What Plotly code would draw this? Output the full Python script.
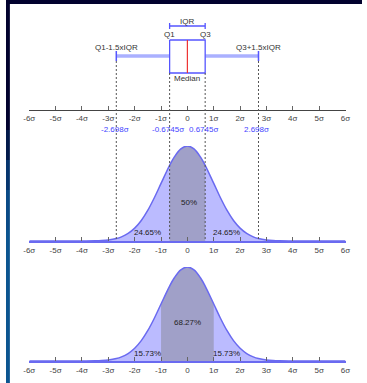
import plotly.graph_objects as go

# ---------------- data ----------------
TICK_VALUES = [-6, -5, -4, -3, -2, -1, 0, 1, 2, 3, 4, 5, 6]
TICK_LABELS = ["-6σ", "-5σ", "-4σ", "-3σ", "-2σ", "-1σ", "0", "1σ", "2σ", "3σ", "4σ", "5σ", "6σ"]

LOWER_FENCE = -2.698
Q1 = -0.6745
MEDIAN = 0.0
Q3 = 0.6745
UPPER_FENCE = 2.698
FENCE_LABELS = ["-2.698σ", "-0.6745σ", "0.6745σ", "2.698σ"]

# standard normal density
CURVE_X = [-6, -5, -4, -3.5, -3.25, -3, -2.698, -2.5, -2.25, -2, -1.75, -1.5, -1.25, -1,
           -0.6745, -0.5, -0.25, 0, 0.25, 0.5, 0.6745, 1, 1.25, 1.5, 1.75, 2, 2.25, 2.5,
           2.698, 3, 3.25, 3.5, 4, 5, 6]
CURVE_Y = [0.0, 0.0, 0.0001, 0.0009, 0.0020, 0.0044, 0.0104, 0.0175, 0.0317, 0.0540, 0.0863,
           0.1295, 0.1826, 0.2420, 0.3178, 0.3521, 0.3867, 0.3989, 0.3867, 0.3521, 0.3178,
           0.2420, 0.1826, 0.1295, 0.0863, 0.0540, 0.0317, 0.0175, 0.0104, 0.0044, 0.0020,
           0.0009, 0.0001, 0.0, 0.0]

IQR_SHARES = ["24.65%", "50%", "24.65%"]
IQR_SHARE_X = [-1.5, 0.05, 1.5]
SIGMA_LOW, SIGMA_HIGH = -1, 1
SIGMA_SHARES = ["15.73%", "68.27%", "15.73%"]
SIGMA_SHARE_X = [-1.5, 0, 1.5]

# ---------------- styling ----------------
W, H = 367, 383
FONT = "Liberation Sans, Arial, sans-serif"
LIGHT = "#bbbbff"
DARK = "#a0a0c8"
CURVE = "#6a6af0"
BLUE = "#5555ff"
TXT = "#333333"


def py(px):
    """pixel row -> paper y"""
    return 1 - px / H


fig = go.Figure()

# ----- section 1 : box plot (y axis in pixel-like units) -----
BOX_TOP, BOX_BOT, WHISK_Y = 40, 73, 56
fig.add_trace(go.Scatter(x=[LOWER_FENCE, Q1], y=[WHISK_Y, WHISK_Y], mode="lines",
                         line=dict(color="#aab0ff", width=3.5), xaxis="x", yaxis="y"))
fig.add_trace(go.Scatter(x=[Q3, UPPER_FENCE], y=[WHISK_Y, WHISK_Y], mode="lines",
                         line=dict(color="#aab0ff", width=3.5), xaxis="x", yaxis="y"))
for fx in (LOWER_FENCE, UPPER_FENCE):
    fig.add_trace(go.Scatter(x=[fx, fx], y=[51, 61], mode="lines",
                             line=dict(color=BLUE, width=1.5), xaxis="x", yaxis="y"))
fig.add_trace(go.Scatter(x=[Q1, Q3, Q3, Q1, Q1], y=[BOX_TOP, BOX_TOP, BOX_BOT, BOX_BOT, BOX_TOP],
                         mode="lines", fill="toself", fillcolor="white",
                         line=dict(color=BLUE, width=1.3), xaxis="x", yaxis="y"))
fig.add_trace(go.Scatter(x=[MEDIAN, MEDIAN], y=[BOX_TOP, BOX_BOT], mode="lines",
                         line=dict(color="#ee3333", width=1.2), xaxis="x", yaxis="y"))
# IQR bracket
fig.add_trace(go.Scatter(x=[Q1, Q3], y=[26, 26], mode="lines",
                         line=dict(color=BLUE, width=1.3), xaxis="x", yaxis="y"))
for qx in (Q1, Q3):
    fig.add_trace(go.Scatter(x=[qx, qx], y=[23, 29], mode="lines",
                             line=dict(color=BLUE, width=1.3), xaxis="x", yaxis="y"))


# ----- sections 2 & 3 : density curves -----
def density(xa, ya, lo, hi):
    idx = [i for i, v in enumerate(CURVE_X) if lo <= v <= hi]
    fig.add_trace(go.Scatter(x=CURVE_X, y=CURVE_Y, mode="lines", fill="tozeroy",
                             fillcolor=LIGHT, line=dict(color=CURVE, width=0, shape="spline"),
                             xaxis=xa, yaxis=ya))
    fig.add_trace(go.Scatter(x=[CURVE_X[i] for i in idx], y=[CURVE_Y[i] for i in idx],
                             mode="lines", fill="tozeroy", fillcolor=DARK,
                             line=dict(width=0, shape="spline"), xaxis=xa, yaxis=ya))
    fig.add_trace(go.Scatter(x=CURVE_X, y=CURVE_Y, mode="lines",
                             line=dict(color=CURVE, width=1.5, shape="spline"),
                             xaxis=xa, yaxis=ya))


density("x2", "y2", Q1, Q3)
density("x3", "y3", SIGMA_LOW, SIGMA_HIGH)

# ----- axes -----
XDOM = [24 / W, 350 / W]
AX1, AX2, AX3 = 110, 241, 361
common_x = dict(range=[-6, 6], domain=XDOM, tickmode="array", tickvals=TICK_VALUES,
                ticktext=TICK_LABELS, ticks="inside", ticklen=4, tickwidth=1,
                tickcolor="#666666", showgrid=False, zeroline=False, showline=True,
                tickfont=dict(family=FONT, size=8, color="#444444"), fixedrange=True)

layout = dict(
    width=W, height=H, autosize=False,
    margin=dict(l=0, r=0, t=0, b=0, pad=0),
    paper_bgcolor="white", plot_bgcolor="rgba(0,0,0,0)",
    showlegend=False,
    xaxis=dict(common_x, anchor="y", linecolor="#444444", linewidth=1),
    xaxis2=dict(common_x, anchor="y2", linecolor=CURVE, linewidth=2),
    xaxis3=dict(common_x, anchor="y3", linecolor=CURVE, linewidth=2),
    yaxis=dict(domain=[py(AX1), py(12)], range=[AX1, 12], visible=False, fixedrange=True),
    yaxis2=dict(domain=[py(AX2), py(146)], range=[0, 0.3989], visible=False, fixedrange=True),
    yaxis3=dict(domain=[py(AX3), py(267)], range=[0, 0.3989], visible=False, fixedrange=True),
)
fig.update_layout(**layout)

# ----- dashed guide lines -----
shapes = []
for fx, top in ((LOWER_FENCE, 61), (UPPER_FENCE, 61), (Q1, BOX_BOT), (Q3, BOX_BOT)):
    shapes.append(dict(type="line", xref="x", yref="paper", x0=fx, x1=fx,
                       y0=py(top), y1=py(AX2), layer="above",
                       line=dict(color="#555555", width=1, dash="2px,2px")))

# frame (dark border top / left)
shapes.append(dict(type="rect", xref="paper", yref="paper", x0=0, x1=1, y0=py(4), y1=1,
                   fillcolor="#02022e", line=dict(width=0), layer="above"))
strip = [(0, 130, "#02022e"), (130, 160, "#031a4a"), (160, 190, "#06356e"),
         (190, 230, "#0a4a86"), (230, 383, "#0c5590")]
for a, b, c in strip:
    shapes.append(dict(type="rect", xref="paper", yref="paper", x0=0, x1=4 / W,
                       y0=py(b), y1=py(a), fillcolor=c, line=dict(width=0), layer="above"))
fig.update_layout(shapes=shapes)

# ----- annotations -----
ann = []


def label(text, x, ypx, xref="x", color=TXT, size=8):
    ann.append(dict(text=text, x=x, y=py(ypx), xref=xref, yref="paper", showarrow=False,
                    xanchor="center", yanchor="middle",
                    font=dict(family=FONT, size=size, color=color)))


label("IQR", MEDIAN, 22)
label("Q1", Q1, 34.5)
label("Q3", Q3, 34.5)
label("Q1-1.5xIQR", LOWER_FENCE, 47.5)
label("Q3+1.5xIQR", UPPER_FENCE, 47.5)
label("Median", MEDIAN, 78)
for fx, t in zip((LOWER_FENCE, Q1, Q3, UPPER_FENCE), FENCE_LABELS):
    label(t, fx - 0.06, 129, color="#4444ff")
for xv, t, ypx in zip(IQR_SHARE_X, IQR_SHARES, (232, 202, 232)):
    label(t, xv, ypx, xref="x2", color="#222222")
for xv, t, ypx in zip(SIGMA_SHARE_X, SIGMA_SHARES, (353, 322, 353)):
    label(t, xv, ypx, xref="x3", color="#222222")
fig.update_layout(annotations=ann)

fig.write_html("out.html", config={"displayModeBar": False},
               post_script="document.body.style.margin='0';"
                           "document.body.style.padding='0';"
                           "document.body.style.overflow='hidden';")
